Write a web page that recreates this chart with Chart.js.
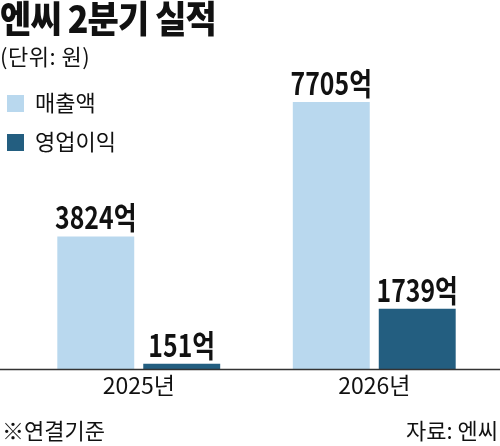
<!DOCTYPE html>
<html>
<head>
<meta charset="utf-8">
<script src="https://cdn.jsdelivr.net/npm/chart.js@4"></script>
<style>
  html, body { margin: 0; padding: 0; background: #fff; }
  #wrap { position: relative; width: 500px; height: 446px; overflow: hidden; font-family: "Noto Sans CJK KR", sans-serif; color: #111; }
  #chart { position: absolute; left: 0; top: 0; }
  .txt { position: absolute; white-space: nowrap; line-height: 1; }
  #title { left: 0; top: -1px; font-size: 37px; font-weight: 900; letter-spacing: -1px; transform: scaleX(0.92); transform-origin: left top; }
  #unit { left: 0; top: 44px; font-size: 22px; letter-spacing: 0.5px; }
  .lg { left: 7px; font-size: 22px; }
  .lg i { display: inline-block; width: 17px; height: 17px; margin-right: 11px; vertical-align: -1px; }
  #note { left: 2px; top: 418px; font-size: 22px; }
  #src { right: 2px; top: 418px; font-size: 22px; }
</style>
</head>
<body>
<div id="wrap">
  <canvas id="chart" width="500" height="446"></canvas>
  <div class="txt" id="title">엔씨 2분기 실적</div>
  <div class="txt" id="unit">(단위: 원)</div>
  <div class="txt lg" style="top:90px"><i style="background:#b9d8ee"></i>매출액</div>
  <div class="txt lg" style="top:129px"><i style="background:#235e80"></i>영업이익</div>
  <div class="txt" id="note">※연결기준</div>
  <div class="txt" id="src">자료: 엔씨</div>
</div>
<script>
const categories = ['2025년', '2026년'];
const sales = [3824, 7705];
const operatingProfit = [151, 1739];
const seriesNames = ['매출액', '영업이익'];
const valueSuffix = '억';

// value labels on top of each bar (narrowed like the original)
const barLabels = {
    id: 'barLabels',
    afterDatasetsDraw(chart) {
        const ctx = chart.ctx;
        chart.data.datasets.forEach(function (ds, i) {
            chart.getDatasetMeta(i).data.forEach(function (bar, j) {
                ctx.save();
                ctx.translate(bar.x, bar.y - 7);
                ctx.scale(0.8, 1);
                ctx.font = 'bold 31px "Noto Sans CJK KR"';
                ctx.fillStyle = '#111';
                ctx.textAlign = 'center';
                ctx.textBaseline = 'alphabetic';
                ctx.fillText(ds.data[j] + valueSuffix, 0, 0);
                ctx.restore();
            });
        });
    }
};

// baseline across the whole width
const baseLine = {
    id: 'baseLine',
    afterDatasetsDraw(chart) {
        const ctx = chart.ctx;
        const y = Math.round(chart.chartArea.bottom) + 0.5;
        ctx.save();
        ctx.strokeStyle = '#333';
        ctx.lineWidth = 1.5;
        ctx.beginPath();
        ctx.moveTo(0, y);
        ctx.lineTo(500, y);
        ctx.stroke();
        ctx.restore();
    }
};

const ctx = document.getElementById('chart').getContext('2d');
new Chart(ctx, {
    type: 'bar',
    data: {
        labels: categories,
        datasets: [{
            label: seriesNames[0],
            data: sales,
            backgroundColor: '#b9d8ee',
            categoryPercentage: 0.73,
            barPercentage: 0.895
        }, {
            label: seriesNames[1],
            data: operatingProfit,
            backgroundColor: '#235e80',
            categoryPercentage: 0.73,
            barPercentage: 0.895
        }]
    },
    options: {
        responsive: false,
        animation: false,
        devicePixelRatio: 1,
        layout: { padding: { left: 21, right: 8, top: 22.5, bottom: 45.4 } },
        plugins: {
            legend: { display: false },
            tooltip: { enabled: false }
        },
        scales: {
            x: {
                grid: { display: false, drawTicks: false },
                border: { display: false },
                ticks: {
                    color: '#111',
                    padding: 2,
                    font: { family: '"Noto Sans CJK KR"', size: 23 }
                }
            },
            y: {
                display: false,
                min: 0,
                max: 10000
            }
        }
    },
    plugins: [barLabels, baseLine]
});
</script>
</body>
</html>
